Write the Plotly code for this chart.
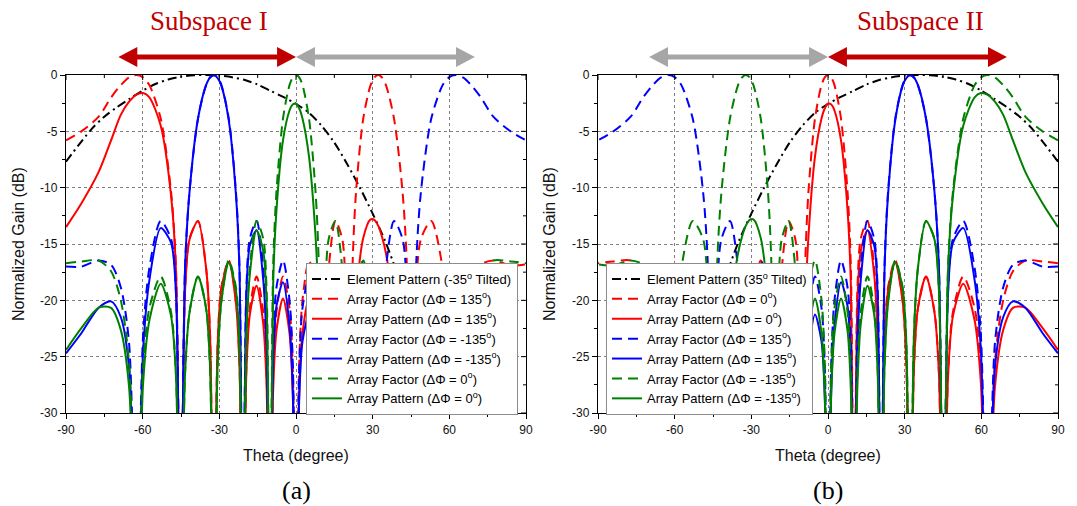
import plotly.graph_objects as go

# Depth used for pattern nulls: far below the -30 dB floor of the plots.
N = -45.0

# ---------------------------------------------------------------------------
# Panel (a): element tilted to -35 deg.  Angles (deg) of the samples that are
# shared by the array-factor and array-pattern curves.
# ---------------------------------------------------------------------------
theta = [-90, -84, -77.21, -72.37, -68.57, -65.32, -62.44, -59.80, -57.37, -52.93,
         -48.90, -47.00, -45.17, -43.40, -41.67, -38.36, -35.19, -33.65, -32.14, -30.65,
         -29.18, -26.31, -23.51, -22.13, -20.77, -19.42, -18.08, -15.42, -12.81, -11.51,
         -10.21, -8.93, -7.64, -5.09, -2.54, -1.27, 0, 1.27, 2.54, 5.09,
         7.64, 8.93, 10.21, 11.51, 12.81, 15.42, 18.08, 19.42, 20.77, 22.13,
         23.51, 26.31, 29.18, 30.65, 32.14, 33.65, 35.19, 38.36, 41.67, 43.40,
         45.17, 47.00, 48.90, 52.93, 57.37, 59.80, 62.44, 65.32, 68.57, 72.37,
         77.21, 84, 90]

# Array factor / array pattern, progressive phase +135 deg (dB)
af_p135 = [-5.8, -5.0, -3.7, -2.0, -0.90, -0.22, 0, -0.22, -0.90, -3.87,
           -10.33, -16.95, N, -19.02, -14.54, -12.96, -17.12, -22.95, N, -23.80,
           -18.84, -16.46, -19.98, -25.53, N, -25.88, -20.69, -17.89, -21.03, -26.39,
           N, -26.39, -21.03, -17.89, -20.69, -25.88, N, -25.53, -19.98, -16.46,
           -18.84, -23.80, N, -22.95, -17.12, -12.96, -14.54, -19.02, N, -16.95,
           -10.33, -3.87, -0.90, -0.22, 0, -0.22, -0.90, -3.87, -10.33, -16.95,
           N, -19.02, -14.54, -12.96, -17.12, -22.95, N, -23.80, -18.84, -16.84,
           -16.46, -16.9, -16.8]
ap_p135 = [-13.5, -11.4, -8.6, -5.8, -3.54, -2.37, -1.74, -1.60, -1.98, -4.50,
           -10.68, -17.20, N, -19.13, -14.60, -12.97, -17.12, -22.96, N, -23.85,
           -18.91, -16.62, -20.25, -25.87, N, -26.38, -21.29, -18.71, -22.12, -27.62,
           N, -27.91, -22.69, -19.83, -22.94, -28.28, N, -28.28, -22.94, -19.83,
           -22.80, -28.05, N, -27.90, -22.46, -19.12, -21.71, -26.70, N, -25.74,
           -19.70, -14.47, -12.82, -12.85, -13.37, -14.35, -15.82, -20.82, -30.0, -38.35,
           N, N, N, N, N, N, N, N, N, N,
           N, N, N]

# Array factor / array pattern, progressive phase -135 deg (dB)
af_m135 = [-17.0, -17.0, -16.46, -16.84, -18.84, -23.80, N, -22.95, -17.12, -12.96,
           -14.54, -19.02, N, -16.95, -10.33, -3.87, -0.90, -0.22, 0, -0.22,
           -0.90, -3.87, -10.33, -16.95, N, -19.02, -14.54, -12.96, -17.12, -22.95,
           N, -23.80, -18.84, -16.46, -19.98, -25.53, N, -25.88, -20.69, -17.89,
           -21.03, -26.39, N, -26.39, -21.03, -17.89, -20.69, -25.88, N, -25.53,
           -19.98, -16.46, -18.84, -23.80, N, -22.95, -17.12, -12.96, -14.54, -19.02,
           N, -16.95, -10.33, -3.87, -0.90, -0.22, 0, -0.22, -0.90, -2.0,
           -3.7, -5.0, -5.8]
ap_m135 = [-24.7, -22.92, -20.65, -20.09, -21.48, -25.95, N, -24.33, -18.20, -13.59,
           -14.89, -19.27, N, -17.06, -10.39, -3.88, -0.90, -0.23, -0.03, -0.27,
           -0.97, -4.03, -10.60, -17.29, N, -19.52, -15.14, -13.78, -18.21, -24.18,
           N, -25.32, -20.50, -18.40, -22.23, -27.93, N, -28.63, -23.65, -21.26,
           -24.99, -30.64, N, -31.34, -26.37, -24.05, -27.86, -33.56, N, -34.32,
           -29.35, -27.06, -30.76, -36.43, N, -37.08, -32.04, -29.91, -34.21, -40.42,
           N, N, N, N, N, N, N, N, N, N,
           N, N, N]

# Array factor / array pattern, progressive phase 0 deg (dB)
af_0 = [-16.7, -16.55, -16.46, -17.42, -19.98, -25.53, N, -25.88, -20.69, -17.89,
        -21.03, -26.39, N, -26.39, -21.03, -17.89, -20.69, -25.88, N, -25.53,
        -19.98, -16.46, -18.84, -23.80, N, -22.95, -17.12, -12.96, -14.54, -19.02,
        N, -16.95, -10.33, -3.87, -0.90, -0.22, 0, -0.22, -0.90, -3.87,
        -10.33, -16.95, N, -19.02, -14.54, -12.96, -17.12, -22.95, N, -23.80,
        -18.84, -16.46, -19.98, -25.53, N, -25.88, -20.69, -17.89, -21.03, -26.39,
        N, -26.39, -21.03, -17.89, -20.69, -25.88, N, -25.53, -19.98, -17.42,
        -16.46, -16.55, -16.7]
ap_0 = [-24.4, -22.47, -20.65, -20.67, -22.62, -27.68, N, -27.26, -21.77, -18.52,
        -21.38, -26.64, N, -26.50, -21.09, -17.90, -20.69, -25.89, N, -25.58,
        -20.05, -16.62, -19.11, -24.14, N, -23.45, -17.72, -13.78, -15.63, -20.25,
        N, -18.47, -11.99, -5.81, -3.15, -2.62, -2.55, -2.97, -3.86, -7.24,
        -14.29, -21.20, N, -23.97, -19.88, -19.12, -24.29, -30.63, N, -32.59,
        -28.21, -27.06, -31.90, -38.16, N, -40.0, -35.61, -34.84, -40.7, N,
        N, N, N, N, N, N, N, N, N, N,
        N, N, N]

# Element pattern tilted to -35 deg (dB)
ep_theta = [-90, -85, -80, -75, -70, -65, -60, -55, -50, -45, -40, -35, -30, -25, -20,
            -15, -10, -5, 0, 5, 10, 15, 20, 25, 30, 35, 40, 45, 48, 50]
ep_gain = [-7.7, -6.2, -4.8, -3.7, -2.85, -2.1, -1.4, -0.8, -0.4, -0.15, -0.02, 0, -0.05,
           -0.2, -0.45, -0.85, -1.4, -1.95, -2.55, -3.35, -4.5, -6.0, -7.9, -10.0, -12.3,
           -14.8, -18.0, -23.0, -30.0, -40.0]

# Panel (b) tilts the element to +35 deg: every curve is reflected through broadside.
theta_b = [-t for t in theta]
ep_theta_b = [-t for t in ep_theta]

x_ticks = [-90, -60, -30, 0, 30, 60, 90]
x_ticktext = ["-90", "-60", "-30", "0", "30", "60", "90"]
x_minor = [-75, -45, -15, 15, 45, 75]
y_ticks = [0, -5, -10, -15, -20, -25, -30]
y_ticktext = ["0", "-5", "-10", "-15", "-20", "-25", "-30"]
y_minor = [-2.5, -7.5, -12.5, -17.5, -22.5, -27.5]

# ---------------------------------------------------------------------------
W, H = 1077, 506
ML, MR, MT, MB = 66, 19, 75, 93
PW, PH = W - ML - MR, H - MT - MB
PANEL_W = 460
SANS = "Arial, Liberation Sans, sans-serif"
SERIF = "Times New Roman, Liberation Serif, serif"
RED, BLUE, GREEN = "#ff0000", "#0000ff", "#008000"
DARK_RED, GREY = "#c00000", "#a6a6a6"
DASH = "10px,6px"
DASHDOT = "9px,4px,2px,4px"


def px_x(p):
    return (p - ML) / PW


def px_y(p):
    return (H - MB - p) / PH


def sup(txt):
    # degree marks are typeset as a superscript "o"
    return txt.replace("deg", "<sup>o</sup>")


panel_a = [
    (sup("Element Pattern (-35deg Tilted)"), ep_theta, ep_gain, "black", DASHDOT),
    (sup("Array Factor (ΔΦ = 135deg)"), theta, af_p135, RED, DASH),
    (sup("Array Pattern (ΔΦ = 135deg)"), theta, ap_p135, RED, "solid"),
    (sup("Array Factor (ΔΦ = -135deg)"), theta, af_m135, BLUE, DASH),
    (sup("Array Pattern (ΔΦ = -135deg)"), theta, ap_m135, BLUE, "solid"),
    (sup("Array Factor (ΔΦ = 0deg)"), theta, af_0, GREEN, DASH),
    (sup("Array Pattern (ΔΦ = 0deg)"), theta, ap_0, GREEN, "solid"),
]
panel_b = [
    (sup("Element Pattern (35deg Tilted)"), ep_theta_b, ep_gain, "black", DASHDOT),
    (sup("Array Factor (ΔΦ = 0deg)"), theta_b, af_0, RED, DASH),
    (sup("Array Pattern (ΔΦ = 0deg)"), theta_b, ap_0, RED, "solid"),
    (sup("Array Factor (ΔΦ = 135deg)"), theta_b, af_m135, BLUE, DASH),
    (sup("Array Pattern (ΔΦ = 135deg)"), theta_b, ap_m135, BLUE, "solid"),
    (sup("Array Factor (ΔΦ = -135deg)"), theta_b, af_p135, GREEN, DASH),
    (sup("Array Pattern (ΔΦ = -135deg)"), theta_b, ap_p135, GREEN, "solid"),
]

fig = go.Figure()
for traces, xa, ya, leg in ((panel_a, "x", "y", "legend"), (panel_b, "x2", "y2", "legend2")):
    for name, xs, ys, color, dash in traces:
        fig.add_trace(go.Scatter(
            x=xs, y=ys, name=name, mode="lines", xaxis=xa, yaxis=ya, legend=leg,
            line=dict(color=color, width=2, dash=dash, shape="spline", smoothing=0.8),
            hoverinfo="skip"))


def x_axis(domain, anchor):
    return dict(domain=domain, anchor=anchor, range=[-90, 90], tickmode="array",
                tickvals=x_ticks, ticktext=x_ticktext, ticks="outside", ticklen=5,
                tickwidth=1, tickcolor="black", showline=True, linecolor="black",
                linewidth=1.3, mirror=True, showgrid=True, gridcolor="#7f7f7f",
                griddash="dot", gridwidth=1, zeroline=False,
                tickfont=dict(family=SANS, size=12, color="#111111"),
                minor=dict(tickmode="array", tickvals=x_minor, ticks="outside",
                           ticklen=3, tickcolor="black", showgrid=False))


def y_axis(anchor):
    return dict(anchor=anchor, domain=[0, 1], range=[-30, 0], tickmode="array",
                tickvals=y_ticks, ticktext=y_ticktext, ticks="outside", ticklen=5,
                tickwidth=1, tickcolor="black", showline=True, linecolor="black",
                linewidth=1.3, mirror=True, showgrid=True, gridcolor="#7f7f7f",
                griddash="dot", gridwidth=1, zeroline=False,
                tickfont=dict(family=SANS, size=12, color="#111111"),
                minor=dict(tickmode="array", tickvals=y_minor, ticks="outside",
                           ticklen=3, tickcolor="black", showgrid=False))


dom_a = [0, px_x(526)]
dom_b = [px_x(598), 1]

legend_style = dict(xanchor="left", yanchor="top", bgcolor="white",
                    bordercolor="#8c8c8c", borderwidth=1, tracegroupgap=0,
                    font=dict(family=SANS, size=13, color="black"))

shapes = []

# inward ticks along the top and right edges of each frame
for xref, yref in (("x", "y"), ("x2", "y2")):
    for vals, ln in ((x_ticks, 5), (x_minor, 3)):
        for t in vals:
            shapes.append(dict(type="line", xref=xref, yref=f"{yref} domain",
                               x0=t, x1=t, y0=1, y1=1 - ln / PH,
                               line=dict(color="black", width=1)))
    for vals, ln in ((y_ticks, 5), (y_minor, 3)):
        for t in vals:
            shapes.append(dict(type="line", xref=f"{xref} domain", yref=yref,
                               x0=1, x1=1 - ln / PANEL_W, y0=t, y1=t,
                               line=dict(color="black", width=1)))

# Subspace arrows above each panel
HEAD_DEG = 7.4
HEAD_H = 10 / PH
ARROW_Y = px_y(57)


def double_arrow(xref, x0, x1, color):
    out = [dict(type="line", xref=xref, yref="paper", x0=x0 + HEAD_DEG * 0.6,
                x1=x1 - HEAD_DEG * 0.6, y0=ARROW_Y, y1=ARROW_Y,
                line=dict(color=color, width=5))]
    for tip, base in ((x0, x0 + HEAD_DEG), (x1, x1 - HEAD_DEG)):
        out.append(dict(type="path", xref=xref, yref="paper", fillcolor=color,
                        line=dict(width=0),
                        path=f"M {tip},{ARROW_Y} L {base},{ARROW_Y + HEAD_H} "
                             f"L {base},{ARROW_Y - HEAD_H} Z"))
    return out


shapes += double_arrow("x", -69.5, 0, DARK_RED)
shapes += double_arrow("x", 0, 70, GREY)
shapes += double_arrow("x2", -70, 0, GREY)
shapes += double_arrow("x2", 0, 70, DARK_RED)

annotations = [
    dict(text="Subspace I", xref="x", x=-34, yref="paper", y=px_y(21), showarrow=False,
         font=dict(family=SERIF, size=27, color=DARK_RED), xanchor="center", yanchor="middle"),
    dict(text="Subspace II", xref="x2", x=36.3, yref="paper", y=px_y(21), showarrow=False,
         font=dict(family=SERIF, size=27, color=DARK_RED), xanchor="center", yanchor="middle"),
]
for xref, tag in (("x", "(a)"), ("x2", "(b)")):
    annotations.append(dict(text="Theta (degree)", xref=xref, x=0, yref="paper",
                            y=px_y(455), showarrow=False, xanchor="center",
                            yanchor="middle",
                            font=dict(family=SANS, size=16, color="#111111")))
    annotations.append(dict(text=tag, xref=xref, x=0, yref="paper", y=px_y(490),
                            showarrow=False, xanchor="center", yanchor="middle",
                            font=dict(family=SERIF, size=26, color="black")))
for xp in (18, 549):
    annotations.append(dict(text="Normalized Gain (dB)", xref="paper", x=px_x(xp),
                            yref="paper", y=0.5, textangle=-90, showarrow=False,
                            xanchor="center", yanchor="middle",
                            font=dict(family=SANS, size=16, color="#111111")))

fig.update_layout(
    width=W, height=H, margin=dict(l=ML, r=MR, t=MT, b=MB),
    plot_bgcolor="white", paper_bgcolor="white",
    xaxis=x_axis(dom_a, "y"), yaxis=y_axis("x"),
    xaxis2=x_axis(dom_b, "y2"), yaxis2=y_axis("x2"),
    legend=dict(x=px_x(306), y=px_y(263), **legend_style),
    legend2=dict(x=px_x(606), y=px_y(263), **legend_style),
    shapes=shapes, annotations=annotations, showlegend=True,
)

fig.write_html("out.html")
